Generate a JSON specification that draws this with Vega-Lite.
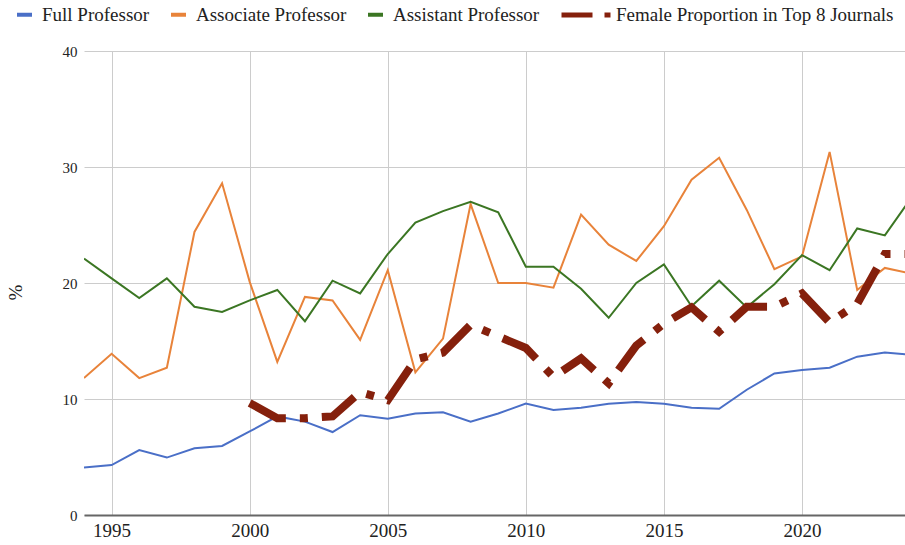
{
  "$schema": "https://vega.github.io/schema/vega-lite/v6.json",
  "width": 821,
  "height": 464,
  "autosize": {"type": "none"},
  "padding": {"left": 84, "top": 51, "right": 0, "bottom": 30},
  "background": "white",
  "config": {
    "view": {"stroke": null},
    "font": "Liberation Serif",
    "axis": {"labelFont": "Liberation Serif", "titleFont": "Liberation Serif"},
    "legend": {"labelFont": "Liberation Serif", "padding": 0}
  },
  "datasets": {
    "prof": [
      {"year": 1994, "series": "Full Professor", "value": 4.1},
      {"year": 1995, "series": "Full Professor", "value": 4.3},
      {"year": 1996, "series": "Full Professor", "value": 5.6},
      {"year": 1997, "series": "Full Professor", "value": 4.95},
      {"year": 1998, "series": "Full Professor", "value": 5.75},
      {"year": 1999, "series": "Full Professor", "value": 5.95},
      {"year": 2000, "series": "Full Professor", "value": 7.2},
      {"year": 2001, "series": "Full Professor", "value": 8.5},
      {"year": 2002, "series": "Full Professor", "value": 8.05},
      {"year": 2003, "series": "Full Professor", "value": 7.15},
      {"year": 2004, "series": "Full Professor", "value": 8.6},
      {"year": 2005, "series": "Full Professor", "value": 8.3},
      {"year": 2006, "series": "Full Professor", "value": 8.75},
      {"year": 2007, "series": "Full Professor", "value": 8.85},
      {"year": 2008, "series": "Full Professor", "value": 8.05},
      {"year": 2009, "series": "Full Professor", "value": 8.75},
      {"year": 2010, "series": "Full Professor", "value": 9.6},
      {"year": 2011, "series": "Full Professor", "value": 9.05},
      {"year": 2012, "series": "Full Professor", "value": 9.25},
      {"year": 2013, "series": "Full Professor", "value": 9.6},
      {"year": 2014, "series": "Full Professor", "value": 9.75},
      {"year": 2015, "series": "Full Professor", "value": 9.6},
      {"year": 2016, "series": "Full Professor", "value": 9.25},
      {"year": 2017, "series": "Full Professor", "value": 9.15},
      {"year": 2018, "series": "Full Professor", "value": 10.8},
      {"year": 2019, "series": "Full Professor", "value": 12.2},
      {"year": 2020, "series": "Full Professor", "value": 12.5},
      {"year": 2021, "series": "Full Professor", "value": 12.7},
      {"year": 2022, "series": "Full Professor", "value": 13.65},
      {"year": 2023, "series": "Full Professor", "value": 14.0},
      {"year": 2024, "series": "Full Professor", "value": 13.8},
      {"year": 1994, "series": "Associate Professor", "value": 11.8},
      {"year": 1995, "series": "Associate Professor", "value": 13.9},
      {"year": 1996, "series": "Associate Professor", "value": 11.8},
      {"year": 1997, "series": "Associate Professor", "value": 12.7},
      {"year": 1998, "series": "Associate Professor", "value": 24.4},
      {"year": 1999, "series": "Associate Professor", "value": 28.6},
      {"year": 2000, "series": "Associate Professor", "value": 20.1},
      {"year": 2001, "series": "Associate Professor", "value": 13.2},
      {"year": 2002, "series": "Associate Professor", "value": 18.8},
      {"year": 2003, "series": "Associate Professor", "value": 18.5},
      {"year": 2004, "series": "Associate Professor", "value": 15.1},
      {"year": 2005, "series": "Associate Professor", "value": 21.1},
      {"year": 2006, "series": "Associate Professor", "value": 12.3},
      {"year": 2007, "series": "Associate Professor", "value": 15.2},
      {"year": 2008, "series": "Associate Professor", "value": 26.8},
      {"year": 2009, "series": "Associate Professor", "value": 20.0},
      {"year": 2010, "series": "Associate Professor", "value": 20.0},
      {"year": 2011, "series": "Associate Professor", "value": 19.6},
      {"year": 2012, "series": "Associate Professor", "value": 25.9},
      {"year": 2013, "series": "Associate Professor", "value": 23.3},
      {"year": 2014, "series": "Associate Professor", "value": 21.9},
      {"year": 2015, "series": "Associate Professor", "value": 24.9},
      {"year": 2016, "series": "Associate Professor", "value": 28.9},
      {"year": 2017, "series": "Associate Professor", "value": 30.8},
      {"year": 2018, "series": "Associate Professor", "value": 26.3},
      {"year": 2019, "series": "Associate Professor", "value": 21.2},
      {"year": 2020, "series": "Associate Professor", "value": 22.3},
      {"year": 2021, "series": "Associate Professor", "value": 31.3},
      {"year": 2022, "series": "Associate Professor", "value": 19.4},
      {"year": 2023, "series": "Associate Professor", "value": 21.3},
      {"year": 2024, "series": "Associate Professor", "value": 20.8},
      {"year": 1994, "series": "Assistant Professor", "value": 22.1},
      {"year": 1995, "series": "Assistant Professor", "value": 20.4},
      {"year": 1996, "series": "Assistant Professor", "value": 18.7},
      {"year": 1997, "series": "Assistant Professor", "value": 20.4},
      {"year": 1998, "series": "Assistant Professor", "value": 17.95},
      {"year": 1999, "series": "Assistant Professor", "value": 17.5},
      {"year": 2000, "series": "Assistant Professor", "value": 18.5},
      {"year": 2001, "series": "Assistant Professor", "value": 19.4},
      {"year": 2002, "series": "Assistant Professor", "value": 16.7},
      {"year": 2003, "series": "Assistant Professor", "value": 20.2},
      {"year": 2004, "series": "Assistant Professor", "value": 19.1},
      {"year": 2005, "series": "Assistant Professor", "value": 22.5},
      {"year": 2006, "series": "Assistant Professor", "value": 25.2},
      {"year": 2007, "series": "Assistant Professor", "value": 26.2},
      {"year": 2008, "series": "Assistant Professor", "value": 27.0},
      {"year": 2009, "series": "Assistant Professor", "value": 26.1},
      {"year": 2010, "series": "Assistant Professor", "value": 21.4},
      {"year": 2011, "series": "Assistant Professor", "value": 21.4},
      {"year": 2012, "series": "Assistant Professor", "value": 19.5},
      {"year": 2013, "series": "Assistant Professor", "value": 17.0},
      {"year": 2014, "series": "Assistant Professor", "value": 20.0},
      {"year": 2015, "series": "Assistant Professor", "value": 21.6},
      {"year": 2016, "series": "Assistant Professor", "value": 18.0},
      {"year": 2017, "series": "Assistant Professor", "value": 20.2},
      {"year": 2018, "series": "Assistant Professor", "value": 17.9},
      {"year": 2019, "series": "Assistant Professor", "value": 19.9},
      {"year": 2020, "series": "Assistant Professor", "value": 22.4},
      {"year": 2021, "series": "Assistant Professor", "value": 21.1},
      {"year": 2022, "series": "Assistant Professor", "value": 24.7},
      {"year": 2023, "series": "Assistant Professor", "value": 24.1},
      {"year": 2024, "series": "Assistant Professor", "value": 27.5}
    ],
    "fem": [
      {"year": 2000, "series": "Female Proportion in Top 8 Journals", "value": 9.65},
      {"year": 2001, "series": "Female Proportion in Top 8 Journals", "value": 8.35},
      {"year": 2002, "series": "Female Proportion in Top 8 Journals", "value": 8.35},
      {"year": 2003, "series": "Female Proportion in Top 8 Journals", "value": 8.5},
      {"year": 2004, "series": "Female Proportion in Top 8 Journals", "value": 10.6},
      {"year": 2005, "series": "Female Proportion in Top 8 Journals", "value": 9.9},
      {"year": 2006, "series": "Female Proportion in Top 8 Journals", "value": 13.4},
      {"year": 2007, "series": "Female Proportion in Top 8 Journals", "value": 14.0},
      {"year": 2008, "series": "Female Proportion in Top 8 Journals", "value": 16.4},
      {"year": 2009, "series": "Female Proportion in Top 8 Journals", "value": 15.4},
      {"year": 2010, "series": "Female Proportion in Top 8 Journals", "value": 14.4},
      {"year": 2011, "series": "Female Proportion in Top 8 Journals", "value": 11.9},
      {"year": 2012, "series": "Female Proportion in Top 8 Journals", "value": 13.5},
      {"year": 2013, "series": "Female Proportion in Top 8 Journals", "value": 11.35},
      {"year": 2014, "series": "Female Proportion in Top 8 Journals", "value": 14.6},
      {"year": 2015, "series": "Female Proportion in Top 8 Journals", "value": 16.5},
      {"year": 2016, "series": "Female Proportion in Top 8 Journals", "value": 17.9},
      {"year": 2017, "series": "Female Proportion in Top 8 Journals", "value": 15.8},
      {"year": 2018, "series": "Female Proportion in Top 8 Journals", "value": 17.95},
      {"year": 2019, "series": "Female Proportion in Top 8 Journals", "value": 17.95},
      {"year": 2020, "series": "Female Proportion in Top 8 Journals", "value": 19.1},
      {"year": 2021, "series": "Female Proportion in Top 8 Journals", "value": 16.6},
      {"year": 2022, "series": "Female Proportion in Top 8 Journals", "value": 18.2},
      {"year": 2023, "series": "Female Proportion in Top 8 Journals", "value": 22.5},
      {"year": 2024, "series": "Female Proportion in Top 8 Journals", "value": 22.5}
    ]
  },
  "layer": [
    {
      "data": {"name": "prof"},
      "mark": {"type": "line", "strokeWidth": 2, "clip": true, "strokeJoin": "miter"},
      "encoding": {
        "x": {
          "field": "year", "type": "quantitative",
          "scale": {"domain": [1994, 2023.73], "nice": false, "zero": false},
          "axis": {
            "values": [1995, 2000, 2005, 2010, 2015, 2020], "format": "d", "title": null,
            "grid": true, "gridColor": "#cccccc", "gridWidth": 1, "ticks": false,
            "domain": true, "domainColor": "#666666", "domainWidth": 2,
            "labelFont": "Liberation Serif", "labelFontSize": 19, "labelColor": "#222222",
            "labelPadding": 6
          }
        },
        "y": {
          "field": "value", "type": "quantitative",
          "scale": {"domain": [0, 40], "nice": false},
          "axis": {
            "values": [0, 10, 20, 30, 40], "title": "%", "grid": true, "gridColor": "#cccccc",
            "ticks": false, "domain": false,
            "labelFont": "Liberation Serif", "labelFontSize": 15, "labelColor": "#222222", "labelPadding": 7,
            "titleFont": "Liberation Serif", "titleFontSize": 19, "titleFontWeight": "normal", "titleColor": "#222222",
            "titleX": -69, "titleY": 241, "titleBaseline": "middle", "titleAlign": "center"
          }
        },
        "color": {
          "field": "series", "type": "nominal",
          "scale": {"domain": ["Full Professor", "Associate Professor", "Assistant Professor"], "range": ["#4a6fc7", "#e8833a", "#3b7623"]},
          "legend": {
            "orient": "none", "legendX": -69, "legendY": -46, "direction": "horizontal", "title": null,
            "symbolType": "stroke", "symbolSize": 225, "symbolStrokeWidth": 4,
            "labelFont": "Liberation Serif", "labelFontSize": 19, "labelColor": "#222222",
            "labelOffset": 8, "columnPadding": 13, "labelLimit": 400,
            "encode": {"symbols": {"update": {"strokeWidth": {"value": 4}}}}
          }
        }
      }
    },
    {
      "data": {"name": "fem"},
      "mark": {"type": "line", "strokeWidth": 8, "strokeDash": [40, 14, 8, 14], "strokeCap": "butt", "strokeJoin": "miter", "clip": true},
      "encoding": {
        "x": {"field": "year", "type": "quantitative"},
        "y": {"field": "value", "type": "quantitative"},
        "color": {
          "field": "series", "type": "nominal",
          "scale": {"domain": ["Female Proportion in Top 8 Journals"], "range": ["#85200c"]},
          "legend": {
            "orient": "none", "legendX": 475, "legendY": -63, "title": null,
            "symbolType": "stroke", "symbolSize": 2401, "symbolStrokeWidth": 5,
            "labelFont": "Liberation Serif", "labelFontSize": 19, "labelColor": "#222222",
            "labelOffset": 3, "labelLimit": 400,
            "encode": {"symbols": {"update": {"strokeDash": {"value": [31, 12, 6, 60]}, "strokeWidth": {"value": 5}}}}
          }
        }
      }
    }
  ],
  "resolve": {"scale": {"color": "independent"}}
}
